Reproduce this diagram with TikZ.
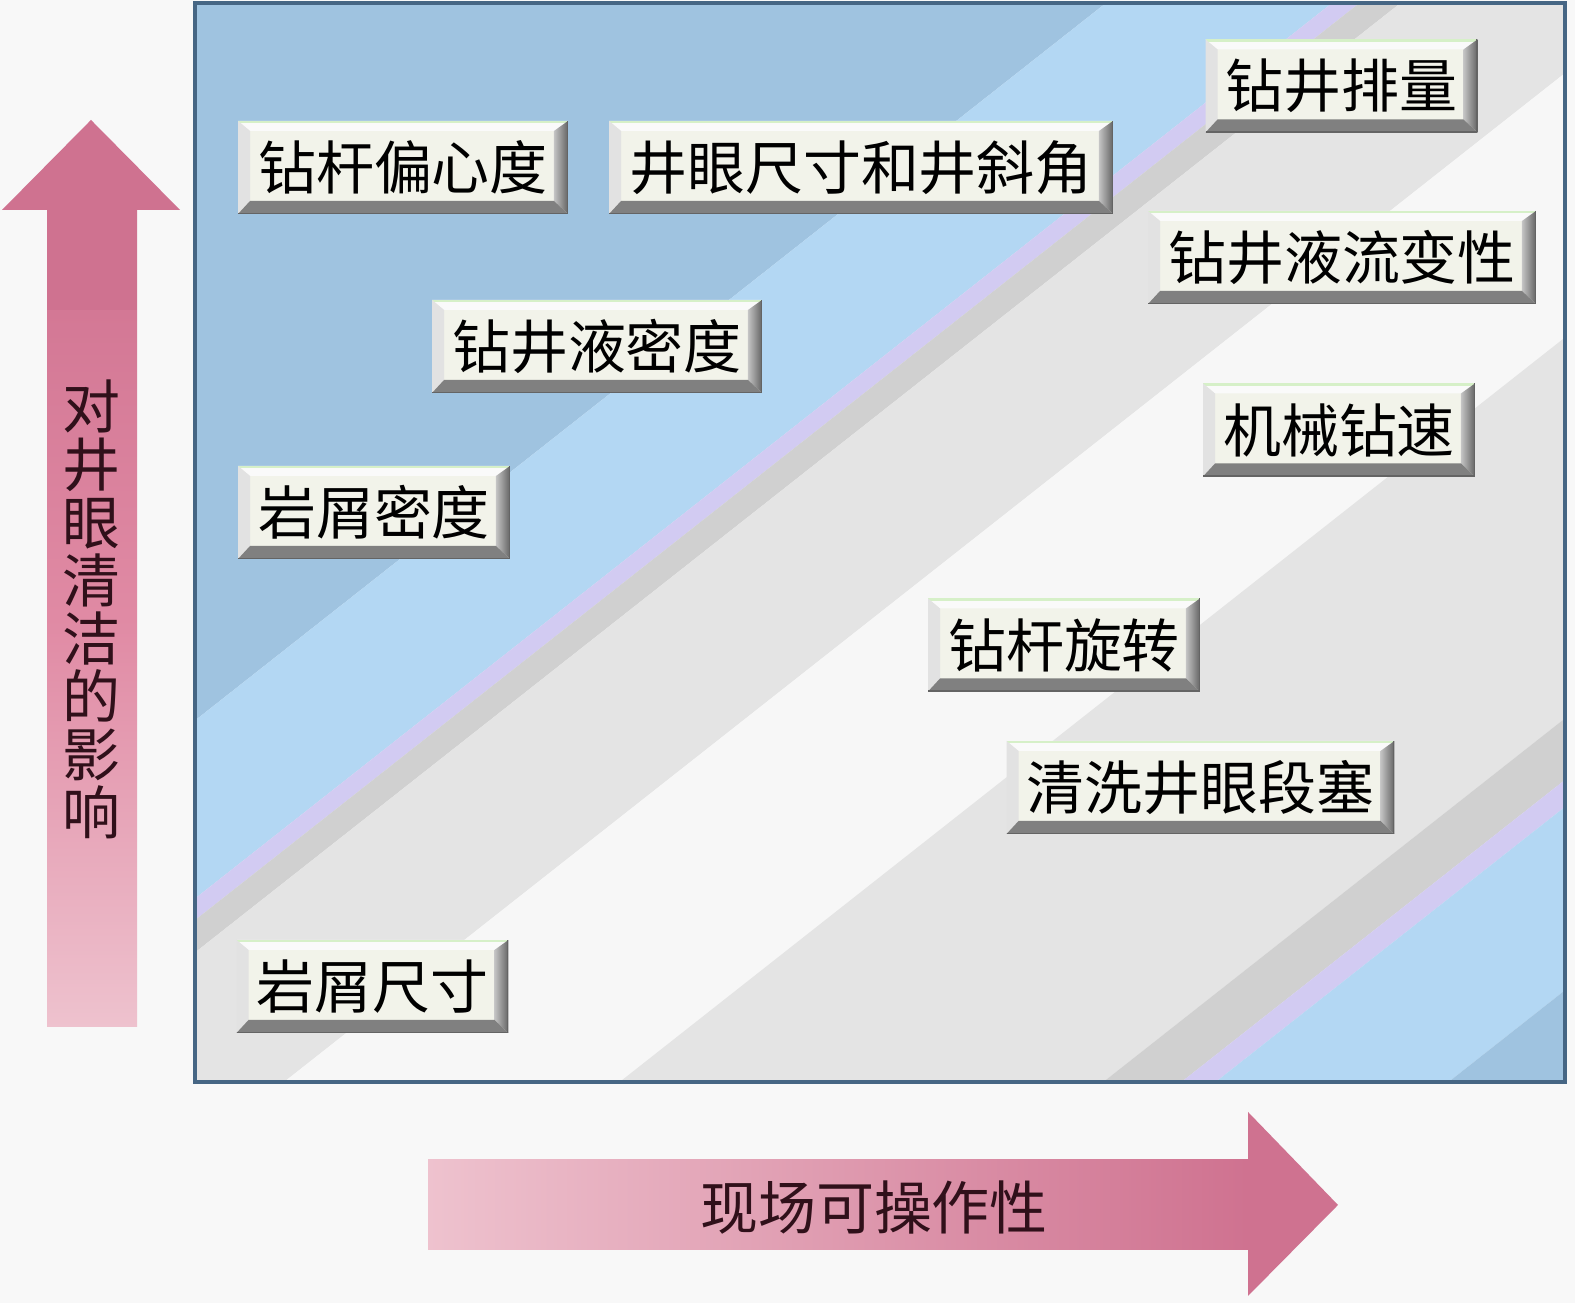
\documentclass[tikz,border=0pt]{standalone}
\usepackage{fontspec}
\newfontfamily\cjk{Noto Sans CJK SC}
\definecolor{PageColor}{RGB}{248,248,248}
\definecolor{PanelDark}{RGB}{159,195,224}
\definecolor{PanelLight}{RGB}{179,215,243}
\definecolor{PanelLilac}{RGB}{210,203,242}
\definecolor{PanelGrey}{RGB}{208,208,208}
\definecolor{PanelPale}{RGB}{228,228,228}
\definecolor{PanelWhite}{RGB}{247,247,247}
\definecolor{PanelEdge}{RGB}{70,102,132}
\definecolor{ArrowDark}{RGB}{207,114,144}
\definecolor{ArrowMid}{RGB}{224,138,164}
\definecolor{ArrowLight}{RGB}{238,194,206}
\definecolor{ArrowText}{RGB}{48,16,26}
\definecolor{BoxFace}{RGB}{242,243,234}
\definecolor{BevelTop}{RGB}{250,250,250}
\definecolor{BevelGlow}{RGB}{214,240,200}
\definecolor{BevelLeft}{RGB}{226,226,226}
\definecolor{BevelSide}{RGB}{196,196,196}
\definecolor{BevelLow}{RGB}{128,128,128}
\definecolor{BevelEdge}{RGB}{100,100,100}
\usepackage{tikz}
\newcommand{\boxfont}{\cjk\fontsize{16.5pt}{16.5pt}\selectfont}
\tikzstyle{factor} = [rectangle, fill=BoxFace, minimum height=0.93cm, inner xsep=0.2cm, inner ysep=0pt, font=\boxfont, text=black,
    path picture={
        \coordinate (sw) at (path picture bounding box.south west);
        \coordinate (se) at (path picture bounding box.south east);
        \coordinate (nw) at (path picture bounding box.north west);
        \coordinate (ne) at (path picture bounding box.north east);
        \fill[BevelTop] (nw) -- (ne) -- ([shift={(-0.12,-0.1)}]ne) -- ([shift={(0.12,-0.1)}]nw) -- cycle;
        \fill[BevelGlow] (nw) rectangle ([yshift=-0.025cm]ne);
        \fill[BevelLeft] (nw) -- (sw) -- ([shift={(0.12,0.13)}]sw) -- ([shift={(0.12,-0.1)}]nw) -- cycle;
        \shade[left color=BevelSide, right color=BevelEdge] (ne) -- (se) -- ([shift={(-0.14,0.13)}]se) -- ([shift={(-0.14,-0.1)}]ne) -- cycle;
        \fill[BevelLow] (sw) -- (se) -- ([shift={(-0.14,0.13)}]se) -- ([shift={(0.12,0.13)}]sw) -- cycle;
        \draw[BevelEdge, line width=0.6pt] (sw) -- (se) -- (ne);
    }]
\tikzstyle{axislabel} = [font=\boxfont, text=ArrowText, align=center, inner sep=0pt]

\begin{document}
\begin{tikzpicture}
    \useasboundingbox (0,0) rectangle (15.75,13.03);
    \fill[PageColor] (0,0) rectangle (15.75,13.03);

    % Panel with diagonal colour bands
    \begin{scope}
        \clip (1.95,2.21) rectangle (15.65,13.00);
        \foreach \a/\b/\c in {0/0.665/PanelDark, 0.665/0.83/PanelLight, 0.83/0.85/PanelLilac,
                0.85/0.88/PanelGrey, 0.88/1.065/PanelPale, 1.065/1.31/PanelWhite,
                1.31/1.663/PanelPale, 1.663/1.72/PanelGrey, 1.72/1.745/PanelLilac,
                1.745/1.915/PanelLight, 1.915/2.05/PanelDark} {
                \fill[\c] ({1.95+\a*13.7},13.00) -- ({1.95+\b*13.7},13.00)
                    -- ({1.95+(\b-1)*13.7},2.21) -- ({1.95+(\a-1)*13.7},2.21) -- cycle;
            }
    \end{scope}
    \draw[PanelEdge, line width=0.9pt] (1.95,2.21) rectangle (15.65,13.00);

    % Vertical arrow
    \shade[top color=ArrowDark, bottom color=ArrowLight, middle color=ArrowMid] (0.47,2.76) rectangle (1.37,10.93);
    \fill[ArrowDark] (0.47,10.93) rectangle (1.37,9.93);
    \fill[ArrowDark] (0.02,10.93) -- (0.91,11.83) -- (1.80,10.93) -- cycle;
    \node[axislabel] (impact) at (0.91,6.94) {对\\井\\眼\\清\\洁\\的\\影\\响};

    % Horizontal arrow
    \shade[left color=ArrowLight, right color=ArrowDark] (4.28,0.53) rectangle (12.48,1.43);
    \fill[ArrowDark] (12.48,1.91) -- (13.38,0.98) -- (12.48,0.07) -- cycle;
    \node[axislabel] (operability) at (8.74,0.95) {现场可操作性};

    % Factors
    \node[factor] (pipeecc) at (4.03,11.355) {钻杆偏心度};
    \node[factor] (holesize) at (8.61,11.355) {井眼尺寸和井斜角};
    \node[factor] (flowrate) at (13.415,12.17) {钻井排量};
    \node[factor] (rheology) at (13.42,10.455) {钻井液流变性};
    \node[factor] (mudweight) at (5.97,9.565) {钻井液密度};
    \node[factor] (rop) at (13.39,8.73) {机械钻速};
    \node[factor] (cutdens) at (3.74,7.905) {岩屑密度};
    \node[factor] (piperot) at (10.64,6.58) {钻杆旋转};
    \node[factor] (sweep) at (12.005,5.155) {清洗井眼段塞};
    \node[factor] (cutsize) at (3.725,3.165) {岩屑尺寸};
\end{tikzpicture}
\end{document}
